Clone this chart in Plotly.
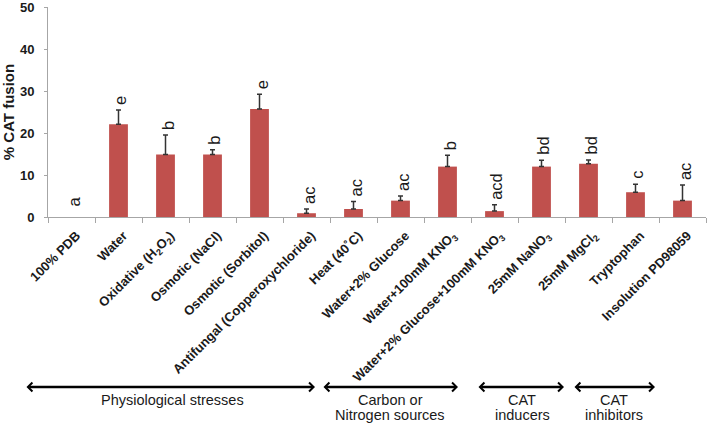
import plotly.graph_objects as go

categories = [
    "100% PDB", "Water", "Oxidative (H<sub>2</sub>O<sub>2</sub>)", "Osmotic (NaCl)",
    "Osmotic (Sorbitol)", "Antifungal (Copperoxychloride)", "Heat (40˚C)",
    "Water+2% Glucose", "Water+100mM KNO<sub>3</sub>",
    "Water+2% Glucose+100mM KNO<sub>3</sub>", "25mM NaNO<sub>3</sub>",
    "25mM MgCl<sub>2</sub>", "Tryptophan", "Insolution PD98059",
]
values = [0, 22.1, 14.9, 14.9, 25.7, 0.9, 1.9, 3.9, 12.0, 1.4, 12.0, 12.7, 5.9, 3.9]
errors = [0, 3.4, 4.6, 1.1, 3.5, 1.0, 1.8, 1.1, 2.7, 1.5, 1.5, 0.9, 1.9, 3.7]
letters = ["a", "e", "b", "b", "e", "ac", "ac", "ac", "b", "acd", "bd", "bd", "c", "ac"]

groups = ["Physiological stresses", "Carbon or<br>Nitrogen sources", "CAT<br>inducers", "CAT<br>inhibitors"]
group_px = [(25, 315), (322, 458), (477, 564), (573, 655)]
group_text_x = [172, 390, 522, 614]

W, H = 709, 425
ML, MR, MT, MB = 48, 3, 7, 208
PW = W - ML - MR
PH = H - MT - MB

def px_to_paper_x(px):
    return (px - ML) / PW

def py_to_paper_y(py):
    return (H - MB - py) / PH

FONT = "Arial, Liberation Sans, sans-serif"
BAR = "#C0504D"
AXC = "#a6a6a6"

bar_y = [v if v > 0 else None for v in values]
err_plus = [e if e > 0 else None for e in errors]
err_minus = [0 if e > 0 else None for e in errors]

fig = go.Figure()
fig.add_trace(go.Bar(
    x=categories, y=bar_y, width=0.4,
    marker=dict(color=BAR, line=dict(width=0)),
    error_y=dict(type="data", symmetric=False, array=err_plus,
                 arrayminus=err_minus, color="#333333",
                 thickness=1.5, width=2.5),
    showlegend=False,
))

annotations = []
for c, v, e, l in zip(categories, values, errors, letters):
    annotations.append(dict(
        x=c, y=v + e, xref="x", yref="y", text=l, showarrow=False,
        textangle=-90, yanchor="bottom", xanchor="center",
        yshift=8 if v == 0 else 3, xshift=2,
        font=dict(family=FONT, size=16.5, color="#1a1a1a"),
    ))

arrow_y = py_to_paper_y(387)
for (a, b) in group_px:
    annotations.append(dict(
        x=px_to_paper_x(b), y=arrow_y, xref="paper", yref="paper",
        ax=a - b, ay=0, axref="pixel", ayref="pixel",
        text="", showarrow=True, arrowside="end+start",
        arrowhead=4, startarrowhead=4, arrowsize=0.7, startarrowsize=0.7,
        arrowwidth=2.5, arrowcolor="#000000", standoff=0, startstandoff=0,
    ))

for g, gx in zip(groups, group_text_x):
    lines = g.split("<br>")
    for i, ln in enumerate(lines):
        annotations.append(dict(
            x=px_to_paper_x(gx), y=py_to_paper_y(400 + 15 * i),
            xref="paper", yref="paper", text=ln, showarrow=False,
            xanchor="center", yanchor="middle",
            font=dict(family=FONT, size=14.5, color="#1a1a1a"),
        ))

fig.update_layout(
    width=W, height=H,
    margin=dict(l=ML, r=MR, t=MT, b=MB, autoexpand=False),
    plot_bgcolor="white", paper_bgcolor="white",
    font=dict(family=FONT, color="#1a1a1a"),
    annotations=annotations,
    xaxis=dict(
        type="category", tickson="boundaries", ticks="outside", ticklen=5,
        tickcolor=AXC, showline=True, linecolor=AXC, linewidth=1,
        tickangle=-45, showgrid=False, automargin=False,
        ticklabelstandoff=5, ticklabelshift=5,
        tickfont=dict(family=FONT, size=13, color="#1a1a1a", weight="bold"),
    ),
    yaxis=dict(
        range=[0, 50], dtick=10, showgrid=False, zeroline=False,
        showline=True, linecolor=AXC, linewidth=1, automargin=False,
        ticklabeloverflow="allow",
        ticks="outside", ticklen=3, tickcolor=AXC, ticklabelstandoff=7,
        tickfont=dict(family=FONT, size=13, color="#1a1a1a", weight="bold"),
        title=dict(text="% CAT fusion", standoff=4,
                   font=dict(family=FONT, size=15, color="#1a1a1a", weight="bold")),
    ),
)

fig.write_html(
    "out.html",
    config={"displayModeBar": False},
    post_script="document.body.style.margin='0';document.body.style.overflow='hidden';",
)
